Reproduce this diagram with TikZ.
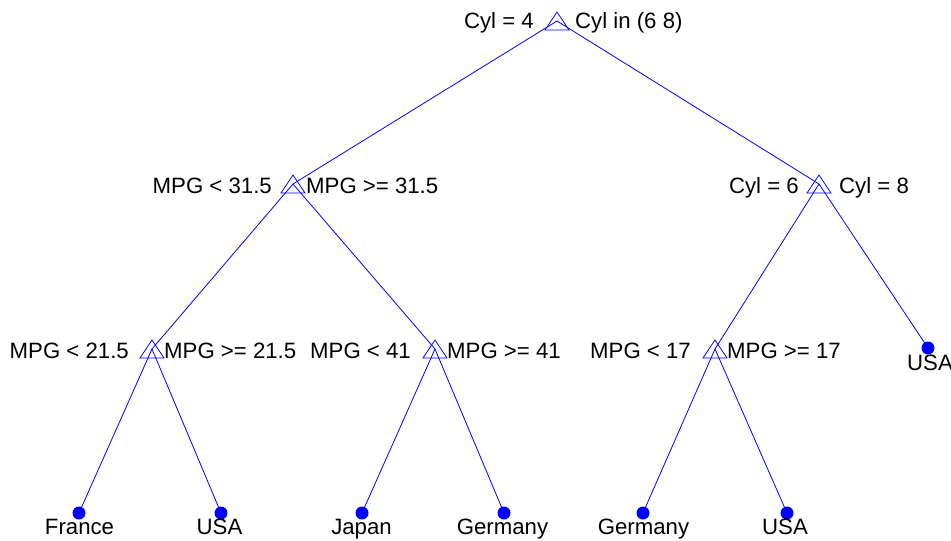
\documentclass[tikz,border=0pt]{standalone}
\usepackage{fontspec}
\setmainfont{Liberation Sans}
\begin{document}
\begin{tikzpicture}[x=1pt,y=-1pt,
  edge/.style={blue,line width=0.8pt},
  tri/.style={blue,line width=0.8pt},
  dotmark/.style={circle,fill=blue,draw=none,minimum size=13pt,inner sep=0pt},
  lbl/.style={inner sep=0pt,font=\fontsize{22.2}{26}\selectfont,text=black},
  lleft/.style={lbl,anchor=base east},
  lright/.style={lbl,anchor=base west},
  lleaf/.style={lbl,anchor=base}
]
\useasboundingbox (0,0) rectangle (951,541);
% node positions
\coordinate (r) at (557,21);
\coordinate (a) at (293,184);
\coordinate (b) at (819,184);
\coordinate (aa) at (152,349);
\coordinate (ab) at (435,349);
\coordinate (ba) at (715,349);
\node[dotmark] (bb) at (928,348) {};
\node[dotmark] (l1) at (79,513) {};
\node[dotmark] (l2) at (221,513) {};
\node[dotmark] (l3) at (362,513) {};
\node[dotmark] (l4) at (504,513) {};
\node[dotmark] (l5) at (643,513) {};
\node[dotmark] (l6) at (787,513) {};
% edges
\draw[edge] (r) -- (a);
\draw[edge] (r) -- (b);
\draw[edge] (a) -- (aa);
\draw[edge] (a) -- (ab);
\draw[edge] (b) -- (ba);
\draw[edge] (b) -- (bb.center);
\draw[edge] (aa) -- (l1.center);
\draw[edge] (aa) -- (l2.center);
\draw[edge] (ab) -- (l3.center);
\draw[edge] (ab) -- (l4.center);
\draw[edge] (ba) -- (l5.center);
\draw[edge] (ba) -- (l6.center);
% triangle markers
\foreach \n in {r,a,b,aa,ab,ba}
  \draw[tri] (\n) ++(-12,9) -- ++(12,-18) -- ++(12,18) -- cycle;
% labels
\node[lleft] (tr1) at (534,28) {Cyl = 4};
\node[lright] (tr2) at (575,28) {Cyl in (6 8)};
\node[lleft] (ta1) at (272,193) {MPG < 31.5};
\node[lright] (ta2) at (306,193) {MPG >= 31.5};
\node[lleft] (tb1) at (799,193) {Cyl = 6};
\node[lright] (tb2) at (839,193) {Cyl = 8};
\node[lleft] (taa1) at (129,358) {MPG < 21.5};
\node[lright] (taa2) at (164,358) {MPG >= 21.5};
\node[lleft] (tab1) at (411,358) {MPG < 41};
\node[lright] (tab2) at (447,358) {MPG >= 41};
\node[lleft] (tba1) at (691,358) {MPG < 17};
\node[lright] (tba2) at (727,358) {MPG >= 17};
\node[lleaf] (tbb) at (930,370) {USA};
\node[lleaf] (t1) at (79.5,534) {France};
\node[lleaf] (t2) at (219.5,534) {USA};
\node[lleaf] (t3) at (361.5,534) {Japan};
\node[lleaf] (t4) at (502.5,534) {Germany};
\node[lleaf] (t5) at (643.5,534) {Germany};
\node[lleaf] (t6) at (785,534) {USA};
\end{tikzpicture}
\end{document}
